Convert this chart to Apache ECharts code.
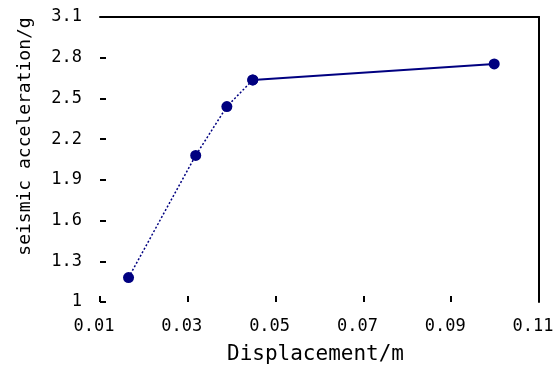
<!DOCTYPE html>
<html>
<head>
<meta charset="utf-8">
<script src="https://cdn.jsdelivr.net/npm/echarts@6/dist/echarts.min.js"></script>
<style>
  html, body { margin: 0; padding: 0; background: #fff; }
  #chart { width: 558px; height: 365px; }
</style>
</head>
<body>
<div id="chart"></div>
<script>
// valores
const displacement = [0.0165, 0.0318, 0.0389, 0.0448, 0.0998];
const acceleration = [1.18, 2.08, 2.44, 2.636, 2.754];
const xTicks = [0.01, 0.03, 0.05, 0.07, 0.09, 0.11];
const yTicks = [1, 1.3, 1.6, 1.9, 2.2, 2.5, 2.8, 3.1];

const pts = displacement.map((x, i) => [x, acceleration[i]]);
const font = 'DejaVu Sans Mono';
const navy = '#000080';

const myChart = echarts.init(document.getElementById('chart'));

const option = {
    animation: false,
    grid: { left: 100, right: 19, top: 17, bottom: 63, outerBoundsMode: 'none', containLabel: false },
    xAxis: [
        {
            type: 'value',
            min: xTicks[0],
            max: xTicks[xTicks.length - 1],
            interval: 0.02,
            name: 'Displacement/m',
            nameLocation: 'middle',
            nameGap: 42,
            nameTextStyle: { color: '#000', fontFamily: font, fontSize: 21, padding: [0, 8, 0, 0] },
            axisLine: { show: false },
            axisTick: { show: true, inside: true, length: 6, lineStyle: { color: '#000', width: 2 } },
            axisLabel: {
                color: '#000', fontFamily: font, fontSize: 17, margin: 16,
                padding: [0, 12, 0, 0],
                formatter: v => v.toFixed(2)
            },
            splitLine: { show: false }
        },
        {
            type: 'value', position: 'top',
            min: xTicks[0], max: xTicks[xTicks.length - 1],
            axisLine: { show: true, lineStyle: { color: '#000', width: 2 } },
            axisTick: { show: false }, axisLabel: { show: false }, splitLine: { show: false }
        }
    ],
    yAxis: [
        {
            type: 'value',
            min: yTicks[0],
            max: yTicks[yTicks.length - 1],
            interval: 0.3,
            name: 'seismic acceleration/g',
            nameLocation: 'middle',
            nameGap: 66,
            nameTextStyle: { color: '#000', fontFamily: font, fontSize: 18, padding: [0, 0, 0, 46] },
            axisLine: { show: false },
            axisTick: { show: true, inside: true, length: 6, lineStyle: { color: '#000', width: 2 } },
            axisLabel: {
                color: '#000', fontFamily: font, fontSize: 17, margin: 18,
                formatter: v => String(Math.round(v * 10) / 10)
            },
            splitLine: { show: false }
        },
        {
            type: 'value', position: 'right',
            min: yTicks[0], max: yTicks[yTicks.length - 1],
            axisLine: { show: true, lineStyle: { color: '#000', width: 2 } },
            axisTick: { show: false }, axisLabel: { show: false }, splitLine: { show: false }
        }
    ],
    series: [
        {
            type: 'line',
            data: pts.slice(0, 4),
            symbol: 'circle',
            symbolSize: 11,
            itemStyle: { color: navy },
            lineStyle: { color: navy, width: 1.5, type: [2, 2] }
        },
        {
            type: 'line',
            data: pts.slice(3),
            symbol: 'circle',
            symbolSize: 11,
            itemStyle: { color: navy },
            lineStyle: { color: navy, width: 2 }
        }
    ]
};

myChart.setOption(option);
</script>
</body>
</html>
